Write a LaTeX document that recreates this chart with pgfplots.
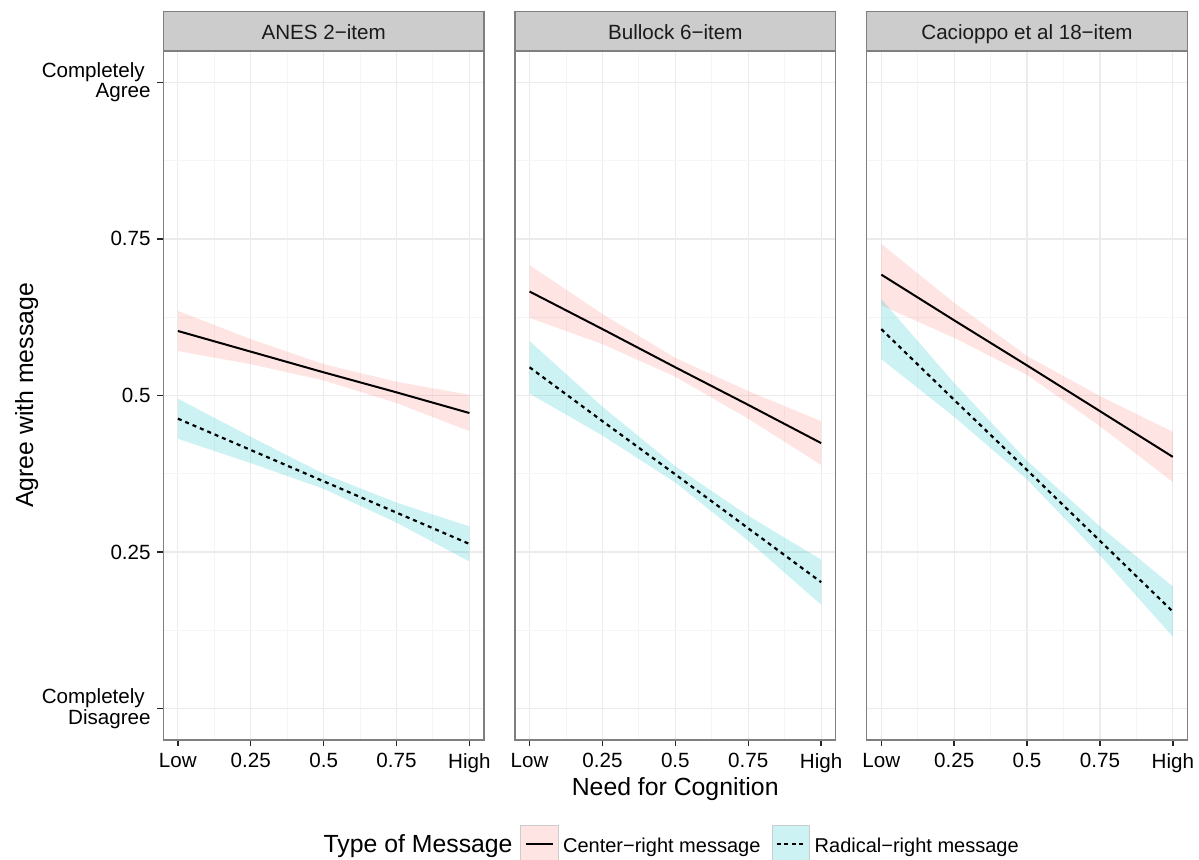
\documentclass[border=0pt]{standalone}
\usepackage{pgfplots}
\pgfplotsset{compat=1.18}
\usepackage{pgfplotstable}
\usepgfplotslibrary{fillbetween}
\usepackage{fontspec}
\setmainfont{Liberation Sans}
\definecolor{crfill}{HTML}{F8766D}
\definecolor{rrfill}{HTML}{00BFC4}
\definecolor{gridA}{HTML}{EBEBEB}
\definecolor{gridB}{HTML}{F5F5F5}
\definecolor{border}{HTML}{7F7F7F}
\definecolor{strip}{HTML}{CCCCCC}
\definecolor{stripText}{HTML}{1A1A1A}

% x = need for cognition (0 = Low, 1 = High), fit, lower, upper
\pgfplotstableread{
x fit lo hi
0    0.603 0.571 0.635
0.25 0.570 0.550 0.590
0.5  0.537 0.524 0.550
0.75 0.505 0.488 0.522
1    0.472 0.443 0.501
}\crA
\pgfplotstableread{
x fit lo hi
0    0.463 0.431 0.495
0.25 0.413 0.392 0.434
0.5  0.363 0.351 0.375
0.75 0.313 0.297 0.329
1    0.263 0.235 0.291
}\rrA
\pgfplotstableread{
x fit lo hi
0    0.666 0.624 0.708
0.25 0.606 0.582 0.630
0.5  0.545 0.530 0.560
0.75 0.485 0.463 0.507
1    0.424 0.389 0.459
}\crB
\pgfplotstableread{
x fit lo hi
0    0.545 0.503 0.587
0.25 0.459 0.436 0.482
0.5  0.374 0.361 0.387
0.75 0.288 0.268 0.308
1    0.202 0.166 0.238
}\rrB
\pgfplotstableread{
x fit lo hi
0    0.693 0.644 0.742
0.25 0.620 0.592 0.648
0.5  0.548 0.533 0.563
0.75 0.475 0.451 0.499
1    0.402 0.362 0.442
}\crC
\pgfplotstableread{
x fit lo hi
0    0.606 0.558 0.654
0.25 0.493 0.466 0.520
0.5  0.381 0.366 0.396
0.75 0.268 0.245 0.291
1    0.155 0.115 0.195
}\rrC

\pgfplotsset{panel/.style={
  width=160.35pt, height=344.5pt, scale only axis,
  xmin=-0.05, xmax=1.05, ymin=-0.05, ymax=1.05,
  xtick={0,0.25,0.5,0.75,1}, xticklabels={Low,0.25,0.5,0.75,High},
  ytick={0,0.25,0.5,0.75,1},
  minor xtick={0.125,0.375,0.625,0.875}, minor ytick={0.125,0.375,0.625,0.875},
  grid=both,
  major grid style={gridA, line width=0.6pt},
  minor grid style={gridB, line width=0.5pt},
  axis line style={border, line width=0.6pt},
  tick align=outside, xtick pos=bottom, ytick pos=left,
  major tick length=3pt, minor tick length=0pt,
  every tick/.style={black!85, line width=0.7pt},
  tick label style={font=\fontsize{10.3}{10.3}\selectfont, text=black},
  xticklabel style={inner sep=0pt, anchor=north, yshift=-3.35pt},
  no markers, clip=true,
  /pgf/number format/assume math mode=true,
}}
\newcommand{\bands}[2]{%
  \addplot[draw=none, name path=ch] table[x=x,y=hi]{#1};
  \addplot[draw=none, name path=cl] table[x=x,y=lo]{#1};
  \addplot[fill=crfill, fill opacity=0.2, draw=none] fill between[of=ch and cl];
  \addplot[draw=none, name path=rh] table[x=x,y=hi]{#2};
  \addplot[draw=none, name path=rl] table[x=x,y=lo]{#2};
  \addplot[fill=rrfill, fill opacity=0.2, draw=none] fill between[of=rh and rl];
  \addplot[black, line width=1pt] table[x=x,y=fit]{#1};
  \addplot[black, line width=1.1pt, dash pattern=on 2pt off 2pt] table[x=x,y=fit]{#2};
}

\begin{document}
\begin{tikzpicture}

\begin{axis}[panel, name=p1, at={(81.65pt,-370pt)}, anchor=south west,
  yticklabels={{Completely\kern2.9pt\\Disagree},0.25,0.5,0.75,{Completely\kern2.9pt\\Agree}},
  yticklabel style={align=right, inner sep=0pt, anchor=east, xshift=-3.15pt}]
\bands{\crA}{\rrA}
\end{axis}

\begin{axis}[panel, name=p2, at={(257.5pt,-370pt)}, anchor=south west,
  yticklabels={}, ytick style={draw=none}]
\bands{\crB}{\rrB}
\end{axis}

\begin{axis}[panel, name=p3, at={(433.35pt,-370pt)}, anchor=south west,
  yticklabels={}, ytick style={draw=none}]
\bands{\crC}{\rrC}
\end{axis}

\foreach \p/\t in {p1/{ANES 2−item}, p2/{Bullock 6−item}, p3/{Cacioppo et al 18−item}} {
  \draw[fill=strip, draw=border, line width=0.6pt] (\p.north west) rectangle ([yshift=19.65pt]\p.north east);
  \node[anchor=base, text=stripText, inner sep=0pt, font=\fontsize{10.3}{10.3}\selectfont] at ([yshift=5.85pt]\p.north) {\t};
}

% axis titles
\node[anchor=base, inner sep=0pt, font=\fontsize{12.4}{12.4}\selectfont] at (337.6pt,-397.5pt) {Need for Cognition};
\node[anchor=base, rotate=90, inner sep=0pt, font=\fontsize{12.4}{12.4}\selectfont] at (16.5pt,-197.75pt) {Agree with message};

% legend
\node[anchor=base west, inner sep=0pt, font=\fontsize{12.4}{12.4}\selectfont] at (161.65pt,-426pt) {Type of Message};
\draw[fill=crfill!20, draw=strip, line width=0.6pt] (260.35pt,-412.85pt) rectangle (279.15pt,-431.3pt);
\draw[black, line width=1pt] (262.85pt,-422.15pt) -- (276.65pt,-422.15pt);
\node[anchor=base west, inner sep=0pt, font=\fontsize{10}{10}\selectfont] at (281.35pt,-426pt) {Center−right message};
\draw[fill=rrfill!20, draw=strip, line width=0.6pt] (386.35pt,-412.85pt) rectangle (404.65pt,-431.3pt);
\draw[black, line width=1.1pt, dash pattern=on 2pt off 1.7pt] (388.35pt,-422.15pt) -- (403pt,-422.15pt);
\node[anchor=base west, inner sep=0pt, font=\fontsize{10}{10}\selectfont] at (407.15pt,-426pt) {Radical−right message};

\pgfresetboundingbox
\useasboundingbox (0,0) rectangle (599.5pt,-430pt);
\end{tikzpicture}
\end{document}
